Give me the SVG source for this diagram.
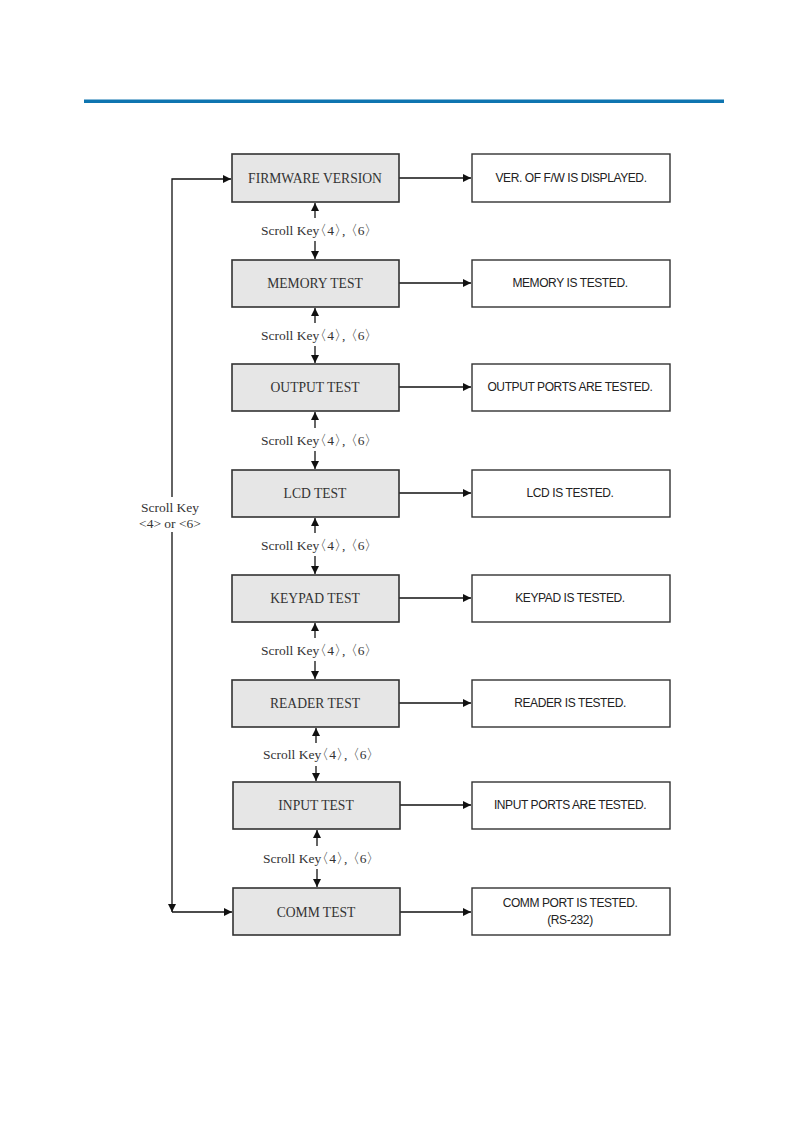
<svg xmlns="http://www.w3.org/2000/svg" width="811" height="1135" viewBox="0 0 811 1135">
<style>
.lb{fill:#e6e6e6;stroke:#333;stroke-width:1.6}
.rb{fill:#fff;stroke:#333;stroke-width:1.4}
.lt{font-family:"Liberation Serif",serif;font-size:13.6px;fill:#333;text-anchor:middle}
.rt{font-family:"Liberation Sans",sans-serif;font-size:12px;letter-spacing:-0.4px;fill:#222;text-anchor:middle}
.sk{font-family:"Liberation Serif",serif;font-size:13.5px;fill:#333}
.sl{font-family:"Liberation Serif",serif;font-size:13.5px;fill:#333;text-anchor:middle}
.ln{stroke:#111;stroke-width:1.3;fill:none}
</style>
<defs>
<marker id="ah" viewBox="0 0 10 10" refX="10" refY="5" markerWidth="10" markerHeight="8" markerUnits="userSpaceOnUse" orient="auto"><path d="M0,0L10,5L0,10z" fill="#111"/></marker>
</defs>
<rect x="84" y="99.5" width="640" height="3.5" fill="#0f75b0"/>
<g id="connectors">
<line class="ln" x1="399" y1="178" x2="471" y2="178" marker-end="url(#ah)"/>
<line class="ln" x1="399" y1="283" x2="471" y2="283" marker-end="url(#ah)"/>
<line class="ln" x1="399" y1="387" x2="471" y2="387" marker-end="url(#ah)"/>
<line class="ln" x1="399" y1="493" x2="471" y2="493" marker-end="url(#ah)"/>
<line class="ln" x1="399" y1="598" x2="471" y2="598" marker-end="url(#ah)"/>
<line class="ln" x1="399" y1="703" x2="471" y2="703" marker-end="url(#ah)"/>
<line class="ln" x1="400" y1="805" x2="471" y2="805" marker-end="url(#ah)"/>
<line class="ln" x1="400" y1="912" x2="471" y2="912" marker-end="url(#ah)"/>
<line class="ln" x1="315" y1="218" x2="315" y2="203" marker-end="url(#ah)"/>
<line class="ln" x1="315" y1="241" x2="315" y2="259" marker-end="url(#ah)"/>
<line class="ln" x1="315" y1="323" x2="315" y2="308" marker-end="url(#ah)"/>
<line class="ln" x1="315" y1="346" x2="315" y2="363" marker-end="url(#ah)"/>
<line class="ln" x1="315" y1="428" x2="315" y2="412" marker-end="url(#ah)"/>
<line class="ln" x1="315" y1="451" x2="315" y2="469" marker-end="url(#ah)"/>
<line class="ln" x1="315" y1="533" x2="315" y2="518" marker-end="url(#ah)"/>
<line class="ln" x1="315" y1="556" x2="315" y2="574" marker-end="url(#ah)"/>
<line class="ln" x1="315" y1="638" x2="315" y2="623" marker-end="url(#ah)"/>
<line class="ln" x1="315" y1="661" x2="315" y2="679" marker-end="url(#ah)"/>
<line class="ln" x1="316" y1="743" x2="316" y2="728" marker-end="url(#ah)"/>
<line class="ln" x1="316" y1="766" x2="316" y2="781" marker-end="url(#ah)"/>
<line class="ln" x1="317" y1="846" x2="317" y2="830" marker-end="url(#ah)"/>
<line class="ln" x1="317" y1="869" x2="317" y2="887" marker-end="url(#ah)"/>
<polyline class="ln" points="172,497 172,179 231,179" marker-end="url(#ah)"/>
<line class="ln" x1="172" y1="532" x2="172" y2="912" marker-end="url(#ah)"/>
<line class="ln" x1="172" y1="912" x2="232" y2="912" marker-end="url(#ah)"/>
<text class="sk" x="261" y="235" dx="0 0 0 0 0 0 0 0 0 0 -6 0 0 -6 0 -5">Scroll Key〈4〉, 〈6〉</text>
<text class="sk" x="261" y="340" dx="0 0 0 0 0 0 0 0 0 0 -6 0 0 -6 0 -5">Scroll Key〈4〉, 〈6〉</text>
<text class="sk" x="261" y="445" dx="0 0 0 0 0 0 0 0 0 0 -6 0 0 -6 0 -5">Scroll Key〈4〉, 〈6〉</text>
<text class="sk" x="261" y="550" dx="0 0 0 0 0 0 0 0 0 0 -6 0 0 -6 0 -5">Scroll Key〈4〉, 〈6〉</text>
<text class="sk" x="261" y="655" dx="0 0 0 0 0 0 0 0 0 0 -6 0 0 -6 0 -5">Scroll Key〈4〉, 〈6〉</text>
<text class="sk" x="263" y="759" dx="0 0 0 0 0 0 0 0 0 0 -6 0 0 -6 0 -5">Scroll Key〈4〉, 〈6〉</text>
<text class="sk" x="263" y="863" dx="0 0 0 0 0 0 0 0 0 0 -6 0 0 -6 0 -5">Scroll Key〈4〉, 〈6〉</text>
<text class="sl" x="170" y="512">Scroll Key</text>
<text class="sl" x="170" y="528">&lt;4&gt; or &lt;6&gt;</text>
</g>
<g id="n-firmware"><rect class="lb" x="232" y="154" width="167" height="48"/><text class="lt" x="315" y="183">FIRMWARE VERSION</text></g>
<g id="n-memory"><rect class="lb" x="232" y="260" width="167" height="47"/><text class="lt" x="315" y="288">MEMORY TEST</text></g>
<g id="n-output"><rect class="lb" x="232" y="364" width="167" height="47"/><text class="lt" x="315" y="392">OUTPUT TEST</text></g>
<g id="n-lcd"><rect class="lb" x="232" y="470" width="167" height="47"/><text class="lt" x="315" y="498">LCD TEST</text></g>
<g id="n-keypad"><rect class="lb" x="232" y="575" width="167" height="47"/><text class="lt" x="315" y="603">KEYPAD TEST</text></g>
<g id="n-reader"><rect class="lb" x="232" y="680" width="167" height="47"/><text class="lt" x="315" y="708">READER TEST</text></g>
<g id="n-input"><rect class="lb" x="233" y="782" width="167" height="47"/><text class="lt" x="316" y="810">INPUT TEST</text></g>
<g id="n-comm"><rect class="lb" x="233" y="888" width="167" height="47"/><text class="lt" x="316" y="917">COMM TEST</text></g>
<g id="r-firmware"><rect class="rb" x="472" y="154" width="198" height="48"/><text class="rt" x="571" y="182">VER. OF F/W IS DISPLAYED.</text></g>
<g id="r-memory"><rect class="rb" x="472" y="260" width="198" height="47"/><text class="rt" x="570" y="287">MEMORY IS TESTED.</text></g>
<g id="r-output"><rect class="rb" x="472" y="364" width="198" height="47"/><text class="rt" x="570" y="391">OUTPUT PORTS ARE TESTED.</text></g>
<g id="r-lcd"><rect class="rb" x="472" y="470" width="198" height="47"/><text class="rt" x="570" y="497">LCD IS TESTED.</text></g>
<g id="r-keypad"><rect class="rb" x="472" y="575" width="198" height="47"/><text class="rt" x="570" y="602">KEYPAD IS TESTED.</text></g>
<g id="r-reader"><rect class="rb" x="472" y="680" width="198" height="47"/><text class="rt" x="570" y="707">READER IS TESTED.</text></g>
<g id="r-input"><rect class="rb" x="472" y="782" width="198" height="47"/><text class="rt" x="570" y="809">INPUT PORTS ARE TESTED.</text></g>
<g id="r-comm"><rect class="rb" x="472" y="888" width="198" height="47"/><text class="rt" x="570" y="907">COMM PORT IS TESTED.</text><text class="rt" x="570" y="924">(RS-232)</text></g>
</svg>
